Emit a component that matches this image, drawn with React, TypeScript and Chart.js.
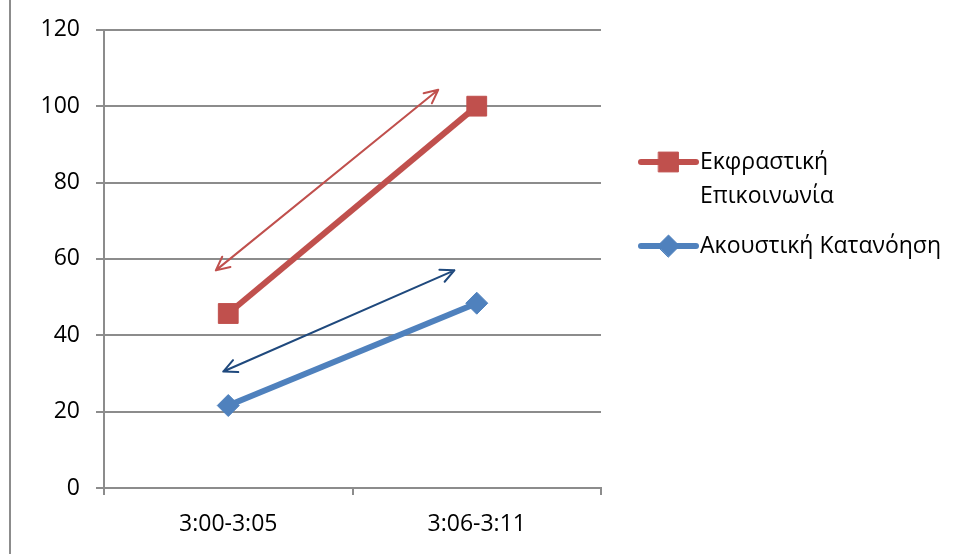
import React, { useEffect, useRef } from "react";
import { Chart, registerables } from "chart.js";
import { drawPoint } from "chart.js/helpers";

Chart.register(...registerables);

const categories = ["3:00-3:05", "3:06-3:11"];
const seriesNames = [["Εκφραστική", "Επικοινωνία"], ["Ακουστική Κατανόηση"]];
const expressiveValues = [45.7, 100];
const auditoryValues = [21.6, 48.4];
const yTicks = [0, 20, 40, 60, 80, 100, 120];
// arrow annotations in data units: [xIndexStart, yStart, xIndexEnd, yEnd]
const redArrow = [-0.05, 57, 0.845, 104.3];
const blueArrow = [-0.02, 30.5, 0.91, 57];

const RED = "#C0504D";
const BLUE = "#4F81BD";
const NAVY = "#1F497D";
const GRID = "#8C8C8C";
const FONT = "'Open Sans', 'Liberation Sans', sans-serif";

function drawArrow(ctx: CanvasRenderingContext2D, x1: number, y1: number, x2: number, y2: number, color: string) {
  const head = 15;
  const spread = 0.45;
  ctx.save();
  ctx.strokeStyle = color;
  ctx.lineWidth = 2;
  ctx.lineCap = "round";
  ctx.lineJoin = "round";
  ctx.beginPath();
  ctx.moveTo(x1, y1);
  ctx.lineTo(x2, y2);
  const a = Math.atan2(y2 - y1, x2 - x1);
  ctx.moveTo(x2 - head * Math.cos(a - spread), y2 - head * Math.sin(a - spread));
  ctx.lineTo(x2, y2);
  ctx.lineTo(x2 - head * Math.cos(a + spread), y2 - head * Math.sin(a + spread));
  ctx.moveTo(x1 + head * Math.cos(a - spread), y1 + head * Math.sin(a - spread));
  ctx.lineTo(x1, y1);
  ctx.lineTo(x1 + head * Math.cos(a + spread), y1 + head * Math.sin(a + spread));
  ctx.stroke();
  ctx.restore();
}

const decorPlugin = {
  id: "decor",
  afterDatasetsDraw(chart: any) {
    const ctx = chart.ctx as CanvasRenderingContext2D;
    const xs = chart.scales.x;
    const ys = chart.scales.y;
    const ca = chart.chartArea;
    const xAt = (i: number) => xs.getPixelForValue(0) + i * (xs.getPixelForValue(1) - xs.getPixelForValue(0));

    ctx.save();
    ctx.strokeStyle = "#8C8C8C";
    ctx.lineWidth = 2;
    ctx.beginPath();
    ctx.moveTo(10, 0);
    ctx.lineTo(10, chart.height);
    ctx.stroke();
    ctx.restore();

    drawArrow(ctx, xAt(redArrow[0]), ys.getPixelForValue(redArrow[1]), xAt(redArrow[2]), ys.getPixelForValue(redArrow[3]), RED);
    drawArrow(ctx, xAt(blueArrow[0]), ys.getPixelForValue(blueArrow[1]), xAt(blueArrow[2]), ys.getPixelForValue(blueArrow[3]), NAVY);

    const items = [
      { names: seriesNames[0], color: RED, style: "rect", radius: 14, y: 162 },
      { names: seriesNames[1], color: BLUE, style: "rectRot", radius: 11, y: 246 },
    ];
    const lx0 = ca.right + 40;
    const lx1 = ca.right + 95;
    items.forEach((it) => {
      ctx.save();
      ctx.strokeStyle = it.color;
      ctx.lineWidth = 6;
      ctx.lineCap = "round";
      ctx.beginPath();
      ctx.moveTo(lx0, it.y);
      ctx.lineTo(lx1, it.y);
      ctx.stroke();
      ctx.fillStyle = it.color;
      ctx.strokeStyle = it.color;
      ctx.lineWidth = 1;
      drawPoint(ctx, { pointStyle: it.style, radius: it.radius, rotation: 0, borderWidth: 1 } as any, (lx0 + lx1) / 2, it.y);
      ctx.fillStyle = "#000";
      ctx.font = `23px ${FONT}`;
      ctx.textBaseline = "middle";
      ctx.textAlign = "left";
      it.names.forEach((n, k) => ctx.fillText(n, lx1 + 4, it.y + k * 34));
      ctx.restore();
    });
  },
};

export default function App() {
  const ref = useRef<HTMLCanvasElement | null>(null);
  useEffect(() => {
    if (!ref.current) return;
    const chart = new Chart(ref.current, {
      type: "line",
      data: {
        labels: categories,
        datasets: [
          {
            label: seriesNames[0].join(" "),
            data: expressiveValues,
            borderColor: RED,
            backgroundColor: RED,
            borderWidth: 6,
            pointStyle: "rect",
            pointRadius: 14,
            pointBorderWidth: 1,
            tension: 0,
          },
          {
            label: seriesNames[1].join(" "),
            data: auditoryValues,
            borderColor: BLUE,
            backgroundColor: BLUE,
            borderWidth: 6,
            pointStyle: "rectRot",
            pointRadius: 11,
            pointBorderWidth: 1,
            tension: 0,
          },
        ],
      },
      options: {
        animation: false,
        responsive: false,
        layout: { padding: { top: 28, right: 356, left: 0, bottom: 0 } },
        plugins: { legend: { display: false }, tooltip: { enabled: false } },
        scales: {
          x: {
            offset: true,
            afterFit: (s: any) => { s.height = 66; },
            grid: { offset: true, drawOnChartArea: false, drawTicks: true, tickLength: 7, color: GRID, lineWidth: 2 },
            border: { color: GRID, width: 2 },
            ticks: { color: "#000", font: { family: FONT, size: 23 }, padding: 16 },
          },
          y: {
            min: 0,
            max: 120,
            afterFit: (s: any) => { s.width = 104; },
            afterBuildTicks: (s: any) => { s.ticks = yTicks.map((v) => ({ value: v })); },
            grid: { color: GRID, lineWidth: 2, tickLength: 8 },
            border: { color: GRID, width: 2 },
            ticks: { color: "#000", font: { family: FONT, size: 23 }, padding: 16 },
          },
        },
      },
      plugins: [decorPlugin],
    });
    return () => chart.destroy();
  }, []);
  return (
    <div style={{ position: "fixed", left: 0, top: 0, width: 957, height: 554, background: "#fff" }}>
      <canvas ref={ref} width={957} height={554} style={{ display: "block" }} />
    </div>
  );
}
